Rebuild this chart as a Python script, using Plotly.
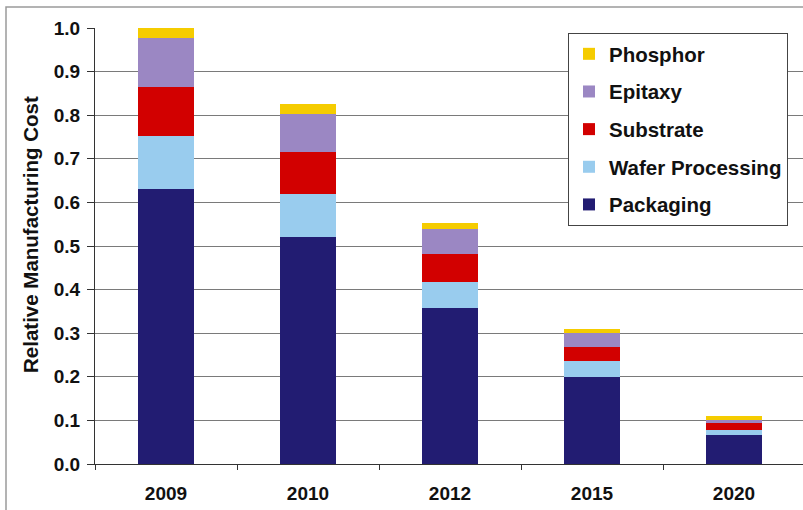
import plotly.graph_objects as go

years = ["2009", "2010", "2012", "2015", "2020"]
packaging = [0.630, 0.521, 0.357, 0.199, 0.067]
wafer_processing = [0.122, 0.098, 0.061, 0.037, 0.011]
substrate = [0.112, 0.096, 0.063, 0.033, 0.017]
epitaxy = [0.113, 0.087, 0.057, 0.031, 0.006]
phosphor = [0.023, 0.024, 0.014, 0.010, 0.009]

series = [
    ("Packaging", packaging, "#221C72"),
    ("Wafer Processing", wafer_processing, "#99CCEE"),
    ("Substrate", substrate, "#D20000"),
    ("Epitaxy", epitaxy, "#9B87C3"),
    ("Phosphor", phosphor, "#F5CC00"),
]

FONT = "Liberation Sans, Arial, sans-serif"
W, H = 803, 510
L, R, T, B = 95, 0, 28, 46
pw = W - L - R
ph = H - T - B

fig = go.Figure()
n = len(series)
for i, (name, vals, col) in enumerate(series):
    fig.add_trace(go.Bar(x=years, y=vals, name=name, marker=dict(color=col, line=dict(width=0)),
                         legendgroup=f"g{i}", legendrank=1000 + (n - i)))

def px2x(px):
    return (px - L) / pw

def py2y(py):
    return (H - B - py) / ph

fig.update_layout(
    width=W, height=H,
    margin=dict(l=L, r=R, t=T, b=B, autoexpand=False),
    paper_bgcolor="white", plot_bgcolor="white",
    barmode="stack", bargap=0.6,
    font=dict(family=FONT, color="#111111"),
    showlegend=True,
    legend=dict(
        traceorder="grouped", tracegroupgap=8,
        x=px2x(568), y=py2y(33), xanchor="left", yanchor="top",
        bgcolor="white", bordercolor="#444444", borderwidth=1,
        font=dict(family=FONT, size=20.5, color="#111111", weight="bold"),
        itemwidth=30, entrywidth=190, entrywidthmode="pixels",
    ),
    xaxis=dict(
        type="category", range=[-0.5, -0.5 + pw / 142.0],
        showline=True, linecolor="#333333", linewidth=1,
        ticks="outside", tickson="boundaries", ticklen=5, tickcolor="#333333",
        tickfont=dict(family=FONT, size=19, color="#111111", weight="bold"),
        ticklabelstandoff=12,
        showgrid=False,
    ),
    yaxis=dict(
        range=[0, 1.0], dtick=0.1, tickformat=".1f",
        showline=True, linecolor="#333333", linewidth=1,
        ticks="outside", ticklen=7, tickcolor="#333333",
        tickfont=dict(family=FONT, size=19, color="#111111", weight="bold"),
        ticklabelstandoff=3,
        showgrid=True, gridcolor="#7a7a7a", gridwidth=1,
        zeroline=False,
    ),
    annotations=[dict(
        text="Relative Manufacturing Cost", textangle=-90,
        x=px2x(30), y=py2y(235), xref="paper", yref="paper",
        xanchor="center", yanchor="middle", showarrow=False,
        font=dict(family=FONT, size=20.5, color="#111111", weight="bold"),
    )],
    shapes=[dict(
        type="rect", xref="paper", yref="paper",
        x0=px2x(6), y0=py2y(520), x1=px2x(820), y1=py2y(7),
        line=dict(color="#9a9a9a", width=1.5), fillcolor="rgba(0,0,0,0)", layer="above",
    )],
)

fig.write_html("out.html", config={"displayModeBar": False},
               post_script="document.body.style.margin='0';")
